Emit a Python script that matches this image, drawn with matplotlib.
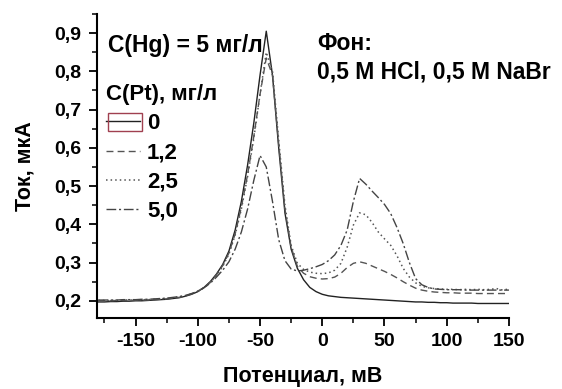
import numpy as np
import matplotlib
matplotlib.use('Agg')
import matplotlib.pyplot as plt
from matplotlib.ticker import MultipleLocator, FuncFormatter
from matplotlib.patches import Rectangle

plt.rcParams['font.family'] = ['Liberation Sans', 'DejaVu Sans']
plt.rcParams['font.weight'] = 'bold'

# potential grid, mV
potential = np.arange(-180, 155, 5)

# current, uA, for each Pt concentration
i_pt_0 = [0.197, 0.197, 0.198, 0.198, 0.199, 0.199, 0.200, 0.200, 0.201, 0.202,
          0.203, 0.204, 0.206, 0.208, 0.212, 0.217, 0.224, 0.235, 0.250, 0.270,
          0.295, 0.330, 0.385, 0.460, 0.555, 0.665, 0.790, 0.905,
          0.790, 0.600, 0.430, 0.335, 0.285, 0.255, 0.235, 0.224, 0.217,
          0.213, 0.211, 0.209, 0.208, 0.207, 0.206, 0.205, 0.204, 0.203, 0.202,
          0.201, 0.200, 0.199, 0.198, 0.197, 0.197, 0.196, 0.196, 0.195, 0.195,
          0.194, 0.194, 0.194, 0.194, 0.193, 0.193, 0.193, 0.193, 0.193, 0.193]
i_pt_12 = [0.200, 0.200, 0.200, 0.201, 0.201, 0.201, 0.202, 0.202, 0.202, 0.203,
           0.204, 0.205, 0.207, 0.209, 0.213, 0.218, 0.225, 0.235, 0.249, 0.268,
           0.292, 0.325, 0.375, 0.445, 0.530, 0.630, 0.740, 0.835,
           0.790, 0.610, 0.440, 0.340, 0.290, 0.272, 0.263, 0.259, 0.257,
           0.258, 0.262, 0.272, 0.287, 0.298, 0.302, 0.298, 0.291, 0.284, 0.277,
           0.269, 0.260, 0.250, 0.241, 0.233, 0.228, 0.225, 0.223, 0.222, 0.221,
           0.221, 0.220, 0.220, 0.220, 0.219, 0.219, 0.219, 0.219, 0.219, 0.219]
i_pt_25 = [0.201, 0.201, 0.201, 0.201, 0.202, 0.202, 0.202, 0.203, 0.203, 0.204,
           0.205, 0.206, 0.208, 0.210, 0.213, 0.218, 0.225, 0.234, 0.248, 0.266,
           0.290, 0.322, 0.372, 0.440, 0.525, 0.625, 0.740, 0.850,
           0.800, 0.620, 0.450, 0.345, 0.298, 0.282, 0.275, 0.272, 0.271,
           0.273, 0.280, 0.298, 0.340, 0.398, 0.430, 0.425, 0.405, 0.380, 0.362,
           0.345, 0.318, 0.285, 0.262, 0.247, 0.238, 0.234, 0.232, 0.231, 0.230,
           0.230, 0.229, 0.230, 0.229, 0.230, 0.229, 0.230, 0.232, 0.228, 0.231]
i_pt_50 = [0.202, 0.202, 0.202, 0.202, 0.203, 0.203, 0.203, 0.204, 0.204, 0.205,
           0.206, 0.207, 0.209, 0.211, 0.214, 0.219, 0.225, 0.234, 0.246, 0.262,
           0.280, 0.302, 0.335, 0.380, 0.440, 0.515, 0.580, 0.550,
           0.460, 0.360, 0.305, 0.283, 0.278, 0.280, 0.284, 0.289, 0.295,
           0.305, 0.320, 0.345, 0.385, 0.460, 0.520, 0.505, 0.487, 0.470, 0.452,
           0.428, 0.392, 0.350, 0.300, 0.258, 0.242, 0.235, 0.231, 0.230, 0.229,
           0.229, 0.229, 0.228, 0.228, 0.228, 0.228, 0.228, 0.228, 0.228, 0.228]

labels = ['0', '1,2', '2,5', '5,0']

fig = plt.figure(figsize=(5.62, 3.89), dpi=100)
ax = fig.add_axes([0.1726, 0.1825, 0.733, 0.7815])

ax.plot(potential, i_pt_0, color='#222222', lw=1.0, ls='-', label=labels[0])
ax.plot(potential, i_pt_12, color='#555555', lw=1.0, ls=(0, (5, 3)), label=labels[1])
ax.plot(potential, i_pt_25, color='#555555', lw=1.1, ls=(0, (1, 2)), label=labels[2])
ax.plot(potential, i_pt_50, color='#444444', lw=1.0, ls=(0, (7, 2, 1.5, 2)), label=labels[3])

ax.set_xlim(-181, 150)
ax.set_ylim(0.155, 0.95)
ax.xaxis.set_major_locator(MultipleLocator(50))
ax.xaxis.set_minor_locator(MultipleLocator(25))
ax.yaxis.set_major_locator(MultipleLocator(0.1))
ax.yaxis.set_minor_locator(MultipleLocator(0.05))
ax.yaxis.set_major_formatter(FuncFormatter(lambda v, p: f'{v:.1f}'.replace('.', ',')))
ax.xaxis.set_major_formatter(FuncFormatter(lambda v, p: f'{v:.0f}'))

for s in ['top', 'right']:
    ax.spines[s].set_visible(False)
for s in ['left', 'bottom']:
    ax.spines[s].set_linewidth(1.5)
ax.tick_params(which='major', direction='out', length=6, width=1.3, labelsize=14, pad=5)
ax.tick_params(which='minor', direction='out', length=3.5, width=1.1)

ax.set_xlabel('Потенциал, мВ', fontsize=15.5, fontweight='bold', labelpad=11)
ax.set_ylabel('Ток, мкА', fontsize=15.5, fontweight='bold', labelpad=14)

fig.text(108 / 562, 1 - 52 / 389, 'C(Hg) = 5 мг/л', fontsize=16.5, fontweight='bold', va='baseline')
fig.text(317 / 562, 1 - 50 / 389, 'Фон:', fontsize=16.5, fontweight='bold', va='baseline')
fig.text(317 / 562, 1 - 78 / 389, '0,5 M HCl, 0,5 M NaBr', fontsize=16.5, fontweight='bold', va='baseline')

leg = ax.legend(title='C(Pt), мг/л', loc='upper left', bbox_to_anchor=(106 / 562, 1 - 84 / 389),
                bbox_transform=fig.transFigure, frameon=False, borderpad=0, borderaxespad=0,
                handlelength=1.55, handletextpad=0.3, labelspacing=0.37, alignment='left',
                prop={'size': 16, 'weight': 'bold'}, title_fontproperties={'size': 16, 'weight': 'bold'})

# red selection box around the first legend handle, as in the original
fig.add_artist(Rectangle((108 / 562, 1 - 131 / 389), 34 / 562, 18 / 389,
                         transform=fig.transFigure, fill=False, ec='#a04050', lw=1.0))

fig.savefig('out.png', dpi=100)
